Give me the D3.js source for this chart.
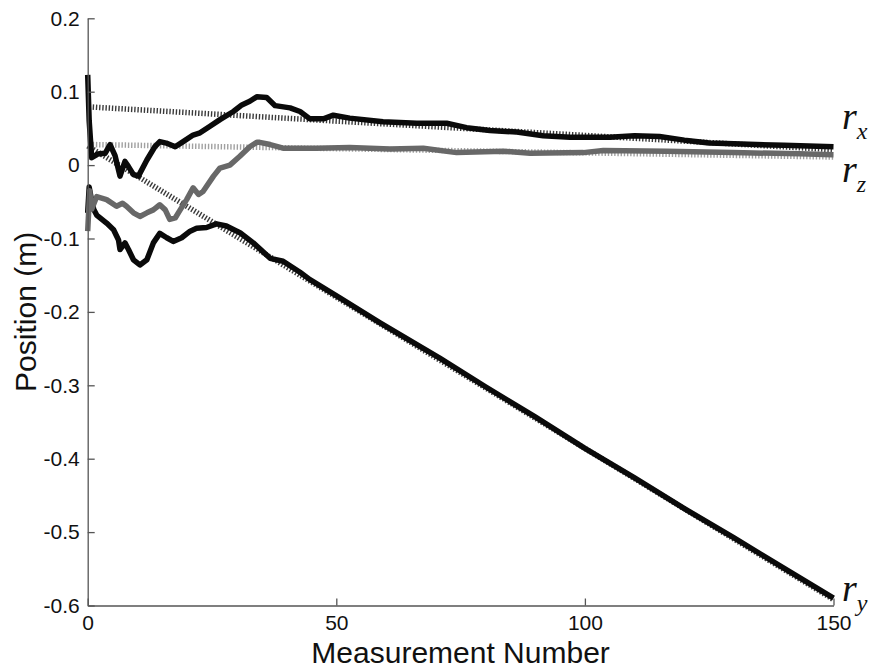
<!DOCTYPE html>
<html>
<head>
<meta charset="utf-8">
<script src="https://cdn.jsdelivr.net/npm/d3@7"></script>
<style>
  html, body { margin: 0; padding: 0; background: #fff; }
  svg { display: block; }
  .tick text { font-family: "Liberation Sans", Arial, sans-serif; font-size: 21px; fill: #111; }
  .axis-title { font-family: "Liberation Sans", Arial, sans-serif; font-size: 30px; fill: #111; }
  .series-label { font-family: "Liberation Serif", "Times New Roman", serif; font-style: italic; fill: #111; }
</style>
</head>
<body>
<script>
// Axis ticks
const xTickValues = [0, 50, 100, 150];
const yTickValues = [0.2, 0.1, 0, -0.1, -0.2, -0.3, -0.4, -0.5, -0.6];

// Reference (true) positions: straight lines, start and end
const rxTrueSteps = [1, 150];
const rxTrueValues = [0.079, 0.021];
const rzTrueSteps = [1, 150];
const rzTrueValues = [0.028, 0.011];
const ryTrueSteps = [0, 150];
const ryTrueValues = [0.026, -0.592];

// Estimated r_x
const rxSteps = [0, 0.3, 0.8, 2, 3.5, 4.5, 5.5, 6.5, 7.5, 8.2, 9.2, 10.2, 11.9, 13.5, 14.5, 15.8, 17.6, 19.2,
  21.2, 22.6, 24.6, 26.6, 29.3, 31, 32.6, 34, 36, 37.7, 40.7, 42.7, 44.7, 47.4, 49.4, 52.7, 59.4, 66.2,
  72.2, 76.2, 80.9, 86.3, 91.6, 97, 105, 110, 115, 120, 125, 130, 140, 150];
const rxValues = [0.123, 0.06, 0.010, 0.015, 0.016, 0.028, 0.013, -0.015, 0.005, -0.002, -0.013, -0.015, 0.007,
  0.025, 0.032, 0.030, 0.025, 0.032, 0.041, 0.044, 0.053, 0.062, 0.073, 0.082, 0.087, 0.093, 0.092, 0.081,
  0.078, 0.073, 0.063, 0.063, 0.068, 0.064, 0.059, 0.057, 0.057, 0.051, 0.047, 0.045, 0.040, 0.038, 0.038,
  0.040, 0.039, 0.034, 0.030, 0.029, 0.027, 0.025];

// Estimated r_z
const rzSteps = [0, 0.4, 0.8, 1.8, 3.8, 5.8, 7, 7.8, 9.2, 10.5, 11.9, 13.2, 14.5, 15.6, 16.5, 17.6, 18.6, 19.9,
  21.2, 22.3, 23.2, 25.3, 26.6, 28.6, 30.6, 32.6, 34, 34.6, 36.7, 39.3, 46, 52.7, 60.8, 67.5, 74.2, 83.6,
  89, 99.7, 103.7, 116.4, 129.8, 143.2, 150];
const rzValues = [-0.09, -0.035, -0.06, -0.043, -0.047, -0.056, -0.052, -0.056, -0.065, -0.070, -0.065, -0.061,
  -0.054, -0.061, -0.074, -0.072, -0.061, -0.047, -0.031, -0.040, -0.036, -0.015, -0.004, 0.0, 0.012, 0.025,
  0.031, 0.031, 0.028, 0.023, 0.023, 0.024, 0.022, 0.023, 0.017, 0.019, 0.016, 0.017, 0.020, 0.019, 0.017,
  0.0155, 0.014];

// Estimated r_y
const rySteps = [0, 0.3, 0.7, 1.2, 1.8, 3.8, 5.2, 6.2, 6.5, 7.5, 8.2, 9.2, 10.5, 11.9, 13.2, 14.5, 15.9, 17.2,
  18.9, 20.6, 21.9, 23.9, 25.9, 27.9, 30, 30.7, 33.3, 36.7, 39.3, 42.7, 44.7, 50.7, 58.8, 70.8, 80, 90, 100,
  110, 120, 130, 140, 150];
const ryValues = [-0.065, -0.03, -0.045, -0.06, -0.068, -0.079, -0.088, -0.102, -0.115, -0.106, -0.115, -0.129,
  -0.136, -0.129, -0.106, -0.093, -0.099, -0.104, -0.099, -0.090, -0.086, -0.085, -0.080, -0.083, -0.090,
  -0.0925, -0.106, -0.127, -0.131, -0.146, -0.156, -0.181, -0.215, -0.263, -0.302, -0.343, -0.386, -0.426,
  -0.468, -0.508, -0.549, -0.590];

const width = 877, height = 672;
const margin = { left: 87.7, right: 877 - 833.5, top: 18.3, bottom: 672 - 605.5 };

const svg = d3.select("body").append("svg")
  .attr("width", width).attr("height", height);

const x = d3.scaleLinear().domain([0, 150]).range([margin.left, width - margin.right]);
const y = d3.scaleLinear().domain([-0.6, 0.2]).range([height - margin.bottom, margin.top]);

const zip = (xs, ys) => xs.map((v, i) => [v, ys[i]]);
const line = d3.line().x(d => x(d[0])).y(d => y(d[1]));

// Reference paths drawn as short hatch dots beneath the estimates
const refs = [
  { pts: zip(rxTrueSteps, rxTrueValues), color: "#3a3a3a" },
  { pts: zip(rzTrueSteps, rzTrueValues), color: "#a0a0a0" },
  { pts: zip(ryTrueSteps, ryTrueValues), color: "#3a3a3a" }
];
svg.append("g").selectAll("path").data(refs).join("path")
  .attr("d", d => line(d.pts))
  .attr("fill", "none")
  .attr("stroke", d => d.color)
  .attr("stroke-width", 5.5)
  .attr("stroke-dasharray", "1.4,1.8");

const ests = [
  { pts: zip(rySteps, ryValues), color: "#0a0a0a" },
  { pts: zip(rzSteps, rzValues), color: "#686868" },
  { pts: zip(rxSteps, rxValues), color: "#0a0a0a" }
];
svg.append("g").selectAll("path").data(ests).join("path")
  .attr("d", d => line(d.pts))
  .attr("fill", "none")
  .attr("stroke", d => d.color)
  .attr("stroke-width", 5.5)
  .attr("stroke-linejoin", "round")
  .attr("stroke-linecap", "butt");

// Axes with inward ticks
const fmt = d => d === 0 ? "0" : d.toFixed(1);
const yAxis = svg.append("g")
  .attr("transform", `translate(${margin.left},0)`)
  .call(d3.axisLeft(y).tickValues(yTickValues).tickFormat(fmt).tickSize(-7).tickSizeOuter(0).tickPadding(8));
const xAxis = svg.append("g")
  .attr("transform", `translate(0,${height - margin.bottom})`)
  .call(d3.axisBottom(x).tickValues(xTickValues).tickFormat(d3.format("d")).tickSize(-7).tickSizeOuter(0).tickPadding(10));
[yAxis, xAxis].forEach(g => {
  g.select(".domain").attr("stroke", "#555").attr("stroke-width", 1.3);
  g.selectAll(".tick line").attr("stroke", "#555").attr("stroke-width", 1.3);
  g.attr("font-family", null).attr("font-size", null);
});

// Axis titles
svg.append("text").attr("class", "axis-title")
  .attr("x", (x(0) + x(150)) / 2).attr("y", 663)
  .attr("text-anchor", "middle").text("Measurement Number");
svg.append("text").attr("class", "axis-title")
  .attr("transform", `translate(36,${(y(0.2) + y(-0.6)) / 2}) rotate(-90)`)
  .attr("text-anchor", "middle").text("Position (m)");

// Series labels at the right end of each curve
const labels = [
  { sub: "x", yPos: 129 },
  { sub: "z", yPos: 182 },
  { sub: "y", yPos: 601 }
];
labels.forEach(l => {
  const t = svg.append("text").attr("class", "series-label")
    .attr("x", 842).attr("y", l.yPos);
  t.append("tspan").attr("font-size", 38).text("r");
  t.append("tspan").attr("font-size", 24).attr("dy", 10).text(l.sub);
});
</script>
</body>
</html>
